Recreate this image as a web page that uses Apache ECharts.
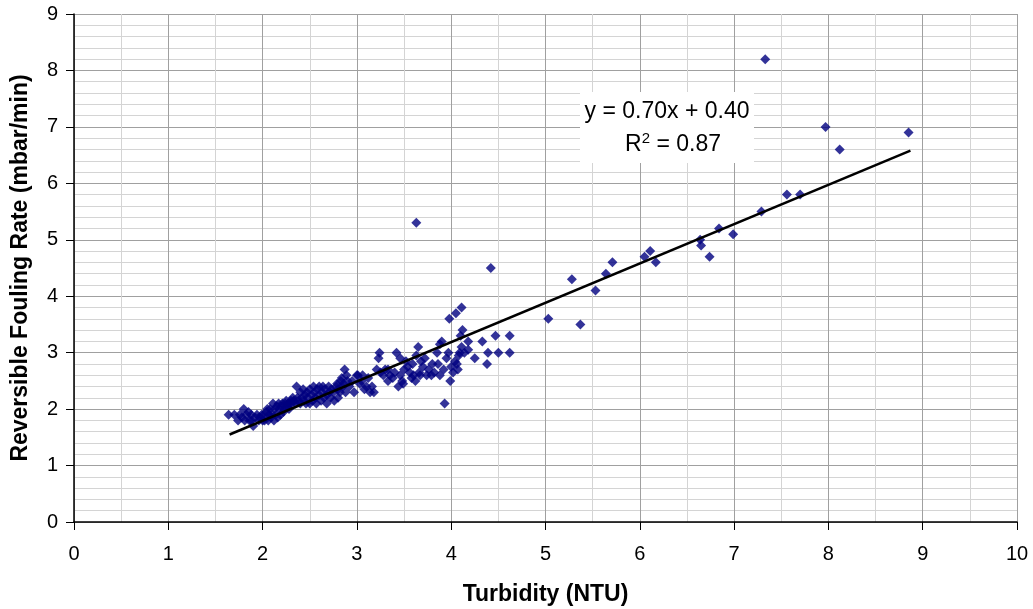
<!DOCTYPE html>
<html>
<head>
<meta charset="utf-8">
<script src="https://cdn.jsdelivr.net/npm/echarts@6/dist/echarts.min.js"></script>
<style>
html,body{margin:0;padding:0;background:#fff;}
#chart{width:1033px;height:609px;}
</style>
</head>
<body>
<div id="chart"></div>
<script>
// Measured points: [turbidity NTU, reversible fouling rate mbar/min]
var foulingPoints = [
 [1.64,1.9],[1.70,1.9],[1.74,1.8],[1.76,1.9],[1.78,1.85],[1.80,2.0],[1.81,1.8],[1.83,1.9],[1.85,1.95],[1.86,1.8],
 [1.88,1.9],[1.88,1.8],[1.90,1.7],[1.92,1.85],[1.94,1.9],[1.96,1.8],[1.97,1.85],[1.99,1.9],[2.00,1.8],
 [2.01,1.9],[2.02,1.8],[2.04,1.95],[2.05,2.0],[2.06,1.8],[2.07,1.9],[2.08,2.0],[2.09,1.85],[2.10,1.9],[2.11,2.1],
 [2.12,1.8],[2.13,2.0],[2.14,1.9],[2.15,2.05],[2.16,1.85],[2.17,2.1],[2.18,2.0],[2.19,1.9],[2.20,2.05],[2.21,2.1],
 [2.22,1.95],[2.23,2.0],[2.24,2.1],[2.25,2.15],[2.26,2.05],[2.27,2.1],[2.28,2.0],[2.29,2.1],[2.30,2.15],
 [2.31,2.1],[2.32,2.2],[2.33,2.15],[2.35,2.1],[2.36,2.4],[2.37,2.2],[2.38,2.15],[2.40,2.3],[2.40,2.1],[2.42,2.2],
 [2.43,2.35],[2.44,2.15],[2.45,2.25],[2.46,2.1],[2.47,2.3],[2.48,2.2],[2.50,2.35],[2.50,2.1],[2.52,2.25],[2.53,2.15],
 [2.54,2.4],[2.55,2.3],[2.56,2.2],[2.57,2.1],[2.58,2.35],[2.60,2.25],[2.60,2.4],
 [2.62,2.15],[2.63,2.3],[2.64,2.4],[2.65,2.2],[2.66,2.35],[2.68,2.25],[2.68,2.1],[2.70,2.4],[2.71,2.3],[2.72,2.2],
 [2.73,2.35],[2.75,2.3],[2.76,2.15],[2.78,2.4],[2.79,2.45],[2.80,2.35],[2.80,2.2],[2.82,2.3],[2.83,2.5],[2.84,2.55],
 [2.85,2.4],[2.86,2.45],[2.87,2.7],[2.88,2.3],[2.89,2.6],[2.90,2.5],[2.92,2.4],[2.95,2.5],[2.97,2.3],[3.00,2.6],
 [3.01,2.6],[3.03,2.45],[3.05,2.5],[3.06,2.6],[3.08,2.35],[3.10,2.4],[3.12,2.55],[3.14,2.3],[3.16,2.4],[3.18,2.3],
 [3.21,2.7],[3.23,2.9],[3.24,3.0],[3.25,2.65],[3.28,2.6],[3.30,2.7],
 [3.33,2.5],[3.33,2.7],[3.35,2.6],[3.38,2.55],[3.40,2.65],[3.42,3.0],[3.44,2.4],[3.46,2.9],[3.46,2.6],[3.48,2.5],
 [3.49,2.45],[3.50,2.7],[3.52,2.85],[3.54,2.75],[3.56,2.65],[3.58,2.55],[3.59,2.8],[3.60,2.6],[3.62,2.5],[3.63,2.95],
 [3.65,3.1],[3.66,2.65],[3.67,2.6],[3.68,2.85],
 [3.70,2.75],[3.72,2.9],[3.74,2.6],[3.76,2.7],[3.79,2.6],[3.80,2.8],[3.82,2.65],[3.85,3.0],[3.86,2.8],[3.88,2.6],
 [3.88,3.15],[3.90,3.2],[3.92,2.7],[3.93,2.1],[3.95,2.9],[3.97,3.0],[3.98,3.6],[3.99,2.5],[4.00,2.75],[4.02,2.65],
 [4.04,2.85],[4.05,3.7],[4.06,2.8],[4.07,2.7],[4.08,2.95],[4.09,3.0],[4.10,3.3],[4.11,3.8],[4.11,3.1],[4.12,3.4],
 [4.14,3.0],[4.18,3.2],[4.18,3.05],
 [4.25,2.9],[4.33,3.2],[4.38,2.8],[4.39,3.0],[4.42,4.5],[4.47,3.3],[4.50,3.0],[4.62,3.3],[4.62,3.0],
 [5.03,3.6],[5.28,4.3],[5.37,3.5],[5.53,4.1],[5.64,4.4],[5.71,4.6],[6.05,4.7],[6.11,4.8],[6.17,4.6],
 [6.64,5.0],[6.65,4.9],[6.74,4.7],[6.84,5.2],[6.99,5.1],[7.29,5.5],[7.56,5.8],[7.70,5.8],
 [7.33,8.2],[7.97,7.0],[8.12,6.6],[8.85,6.9],[3.63,5.3]
];
// Linear trend line endpoints (y = 0.70x + 0.40)
var trendLine = [[1.65,1.55],[8.87,6.58]];
var xTicks = [0,1,2,3,4,5,6,7,8,9,10];
var yTicks = [0,1,2,3,4,5,6,7,8,9];
var equationText = 'y = 0.70x + 0.40';
var r2Value = '0.87';

var chart = echarts.init(document.getElementById('chart'), null, {renderer:'canvas'});
var font = 'Liberation Sans, Arial, sans-serif';
chart.setOption({
  animation:false,
  backgroundColor:'#ffffff',
  grid:{left:74, right:16, top:14, bottom:87, containLabel:false, outerBoundsMode:'none'},
  xAxis:{
    type:'value', min:xTicks[0], max:xTicks[xTicks.length-1], interval:1,
    name:'Turbidity (NTU)', nameLocation:'middle', nameGap:61,
    nameTextStyle:{fontFamily:font, fontSize:23, fontWeight:'bold', color:'#000'},
    axisLine:{show:true, onZero:false, lineStyle:{color:'#000', width:1.5}},
    axisTick:{show:true, inside:false, length:8, lineStyle:{color:'#000', width:1}},
    axisLabel:{fontFamily:font, fontSize:20, color:'#000', margin:22},
    splitLine:{show:true, lineStyle:{color:'#a0a0a0', width:1}},
    minorTick:{show:false, splitNumber:2},
    minorSplitLine:{show:true, lineStyle:{color:'#d4d4d4', width:1}}
  },
  yAxis:{
    type:'value', min:yTicks[0], max:yTicks[yTicks.length-1], interval:1,
    name:'Reversible Fouling Rate (mbar/min)', nameLocation:'middle', nameGap:42,
    nameTextStyle:{fontFamily:font, fontSize:23, fontWeight:'bold', color:'#000'},
    axisLine:{show:true, onZero:false, lineStyle:{color:'#000', width:1.5}},
    axisTick:{show:true, inside:false, length:8, lineStyle:{color:'#000', width:1}},
    axisLabel:{fontFamily:font, fontSize:20, color:'#000', margin:16},
    splitLine:{show:true, lineStyle:{color:'#a0a0a0', width:1}},
    minorTick:{show:false, splitNumber:5},
    minorSplitLine:{show:true, lineStyle:{color:'#d4d4d4', width:1}}
  },
  series:[
    {
      type:'scatter', data:foulingPoints, symbol:'diamond', symbolSize:10,
      itemStyle:{color:'#000080'}, z:3
    },
    {
      type:'line', data:trendLine, symbol:'none', z:4,
      lineStyle:{color:'#000', width:2.5}
    }
  ],
  graphic:[
    {type:'rect', left:580, top:92, shape:{width:174, height:71}, style:{fill:'#ffffff'}, z:100},
    {type:'text', x:667, y:112, z:101,
      style:{text:equationText, fontFamily:font, fontSize:23, fill:'#000', align:'center', verticalAlign:'middle'}},
    {type:'text', x:673, y:145, z:101,
      style:{text:'{a|R}{s|2}{a| = '+r2Value+'}', fill:'#000', align:'center', verticalAlign:'middle',
        rich:{a:{fontFamily:font, fontSize:23, fill:'#000'}, s:{fontFamily:font, fontSize:15, verticalAlign:'top', padding:[0,0,12,0], fill:'#000'}}}}
  ]
});
</script>
</body>
</html>
